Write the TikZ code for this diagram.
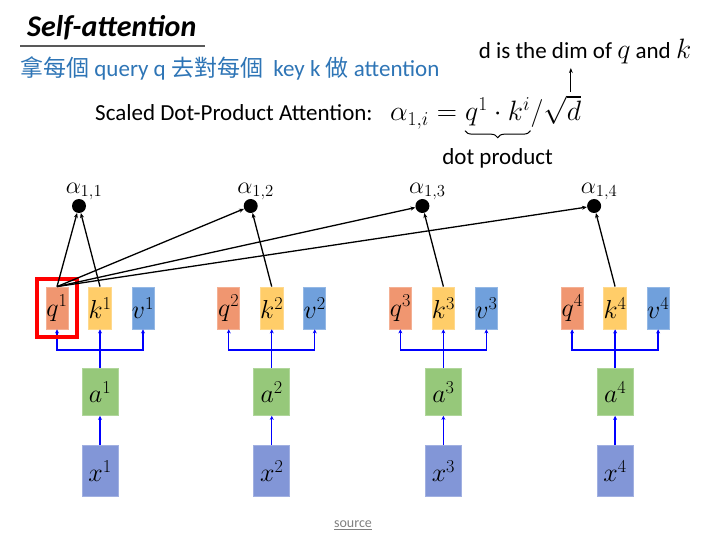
\RequirePackage{fix-cm}
\documentclass[tikz,border=0pt]{standalone}
\usepackage{fontspec}
\setmainfont{Carlito}
\newfontfamily\cjk{Noto Sans CJK TC}
\usetikzlibrary{arrows.meta, positioning, decorations.pathreplacing}
\definecolor{qcol}{RGB}{240,150,112}
\definecolor{kcol}{RGB}{255,205,105}
\definecolor{vcol}{RGB}{112,160,220}
\definecolor{acol}{RGB}{150,200,122}
\definecolor{xcol}{RGB}{130,150,215}
\definecolor{cnblue}{RGB}{46,117,182}
\newcommand{\dimvar}[1]{{\fontsize{28}{30}\selectfont$#1$}}
\tikzset{
  vecbox/.style={rectangle, inner sep=0pt, minimum width=22pt, minimum height=42pt,
                 line width=0.8pt, font=\fontsize{26}{28}\selectfont},
  qbox/.style={vecbox, fill=qcol, draw=qcol!75!white},
  kbox/.style={vecbox, fill=kcol, draw=kcol!75!white},
  vbox/.style={vecbox, fill=vcol, draw=vcol!75!white},
  abox/.style={vecbox, fill=acol, draw=acol!75!white, minimum width=36pt, minimum height=47pt},
  xbox/.style={vecbox, fill=xcol, draw=xcol!75!white, minimum width=36pt, minimum height=51pt},
  conn/.style={draw=blue, line width=1.5pt, -{Stealth[length=4pt, width=4pt]}},
  att/.style={draw=black, line width=1.3pt, -{Stealth[length=5pt, width=4pt]}},
  dot/.style={circle, fill=black, inner sep=0pt, minimum size=14pt},
  txt/.style={font=\fontsize{23}{26}\selectfont}
}
\begin{document}
\begin{tikzpicture}[x=1pt, y=-1pt]
  \useasboundingbox[fill=white] (0,0) rectangle (714,537);

  % titulo
  \node[anchor=west, inner sep=0pt, font=\fontsize{30}{34}\selectfont\bfseries\itshape] (title) at (27,28) {Self-attention};
  \draw[gray!70!black, line width=1.2pt] (20,46) -- (205,46);
  \node[anchor=west, inner sep=0pt, text=cnblue, font=\fontsize{23}{26}\selectfont] (sub) at (20,68)
    {{\cjk 拿每個} query q {\cjk 去對每個}\ \ key k {\cjk 做} attention};

  % formula
  \node[txt, anchor=base west, inner sep=0pt] (sda) at (95,121) {Scaled Dot-Product Attention:};
  \node[anchor=base west, inner sep=0pt, font=\fontsize{28}{30}\selectfont] (eqA) at (390,121) {$\alpha_{1,i} = {}$};
  \node[anchor=base west, inner sep=0pt, font=\fontsize{28}{30}\selectfont] (eqB) at (eqA.base east) {$q^1\cdot k^i$};
  \node[anchor=base west, inner sep=0pt, font=\fontsize{28}{30}\selectfont] (eqC) at (eqB.base east) {$/\sqrt{d}$};
  \draw[decorate, decoration={brace, mirror, amplitude=7pt}, line width=1pt] ([yshift=-4pt]eqB.south west) -- ([yshift=-4pt]eqB.south east);
  \node[txt, below=18pt of eqB] (dp) {dot product};
  \node[txt] (dim) at (585,52) {d is the dim of \dimvar{q} and \dimvar{k}};
  \coordinate (dtop) at ([xshift=15pt, yshift=3pt]eqC.north);
  \draw[-{Stealth[length=5pt]}, line width=1pt] (dtop) -- (dtop |- dim.south);

  % vetores q k v, a, x
  \foreach \i in {1,...,4} {
    \pgfmathsetmacro\c{100+171.7*(\i-1)}
    \node[qbox] (q\i) at (\c-43,308) {$q^{\i}$};
    \node[kbox] (k\i) at (\c,308) {$k^{\i}$};
    \node[vbox] (v\i) at (\c+43,308) {$v^{\i}$};
    \node[abox] (a\i) at (\c,392) {$a^{\i}$};
    \node[xbox] (x\i) at (\c,471) {$x^{\i}$};
    \coordinate (h\i) at (\c,350);
    \draw[conn] (x\i) -- (a\i);
    \draw[conn] (a\i) -- (k\i);
    \draw[conn, {Stealth[length=4pt, width=4pt]}-{Stealth[length=4pt, width=4pt]}] (q\i.south) |- (h\i) -| (v\i.south);
    \node[dot, label={[font=\fontsize{24}{26}\selectfont, xshift=5pt, yshift=-5pt]above:$\alpha_{1,\i}$}] (al\i) at (\c-21,206) {};
  }

  % destaque q1
  \node[rectangle, draw=red, line width=3.5pt, minimum width=40pt, minimum height=58pt] (hl) at (q1) {};

  % atencao
  \foreach \i in {1,...,4} {
    \draw[att] (q1.north) -- (al\i);
    \draw[att] (k\i.north) -- (al\i);
  }

  \node[font=\fontsize{14}{16}\selectfont, text=gray] (src) at (353,525) {\underline{source}};
\end{tikzpicture}
\end{document}
